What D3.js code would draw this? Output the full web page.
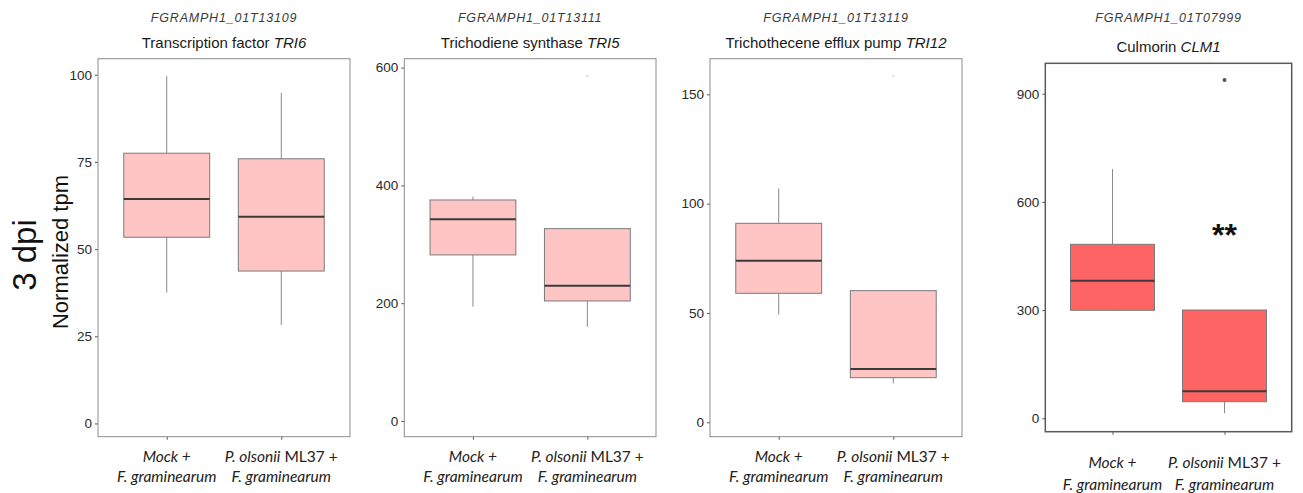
<!DOCTYPE html>
<html>
<head>
<meta charset="utf-8">
<script src="https://cdn.jsdelivr.net/npm/d3@7"></script>
<style>
  body { margin: 0; background: #fff; }
  svg { display: block; font-family: "Liberation Sans", Arial, sans-serif; }
</style>
</head>
<body>
<div id="chart"></div>
<script>
// Data
const groups = ["Mock + F. graminearum", "P. olsonii ML37 + F. graminearum"];
const geneIds = ["FGRAMPH1_01T13109", "FGRAMPH1_01T13111", "FGRAMPH1_01T13119", "FGRAMPH1_01T07999"];
const geneNames = ["Transcription factor", "Trichodiene synthase", "Trichothecene efflux pump", "Culmorin"];
const geneSymbols = ["TRI6", "TRI5", "TRI12", "CLM1"];
const yTicks = [[0, 25, 50, 75, 100], [0, 200, 400, 600], [0, 50, 100, 150], [0, 300, 600, 900]];

// [lower whisker, Q1, median, Q3, upper whisker] per group
const tri6 = [[37.5, 53.4, 64.4, 77.5, 99.6], [28.2, 43.7, 59.3, 75.9, 94.8]];
const tri5 = [[194, 282, 342.5, 375.3, 381], [160, 203.8, 229.8, 326.6, 326.6]];
const tri12 = [[49.2, 59.0, 73.9, 91.0, 107], [17.8, 20.4, 24.4, 60.2, 60.2]];
const clm1 = [[298, 299.5, 381.6, 482.5, 691], [13.9, 46, 74.9, 300.3, 300.3]];
const boxStats = [tri6, tri5, tri12, clm1];

// outliers per panel: [group index, value]
const outliers = [[], [[1, 586]], [[1, 158.5]], [[1, 938]]];
// significance marks: [panel, group index, value, text]
const marks = [[3, 1, 478, "**"]];

// Layout
const W = 1303, H = 493;
const panels = [
  {x0: 98, x1: 350, y0: 58.7, y1: 436.7, dom: [-3.8, 104.6], fill: "#ffc5c5", frame: "#8c8c8c", lab: 25.5, ol: "#d0d0d0", or: 1},
  {x0: 404.3, x1: 656, y0: 58.7, y1: 436.7, dom: [-26.7, 615.2], fill: "#ffc5c5", frame: "#8c8c8c", lab: 25.5, ol: "#d0d0d0", or: 1},
  {x0: 710, x1: 962, y0: 58.7, y1: 436.7, dom: [-6.6, 166.3], fill: "#ffc5c5", frame: "#8c8c8c", lab: 25.5, ol: "#d0d0d0", or: 1},
  {x0: 1045.3, x1: 1291.7, y0: 63.3, y1: 431.7, dom: [-37.2, 984.5], fill: "#ff6464", frame: "#5a5a5a", lab: 36, ol: "#555", or: 2}
];

const svg = d3.select("#chart").append("svg")
  .attr("width", W).attr("height", H);

panels.forEach((p, i) => {
  const g = svg.append("g");
  const y = d3.scaleLinear().domain(p.dom).range([p.y1, p.y0]);
  const x = d3.scalePoint().domain(groups).range([p.x0, p.x1]).padding(0.6);
  const bw = x.step() * 0.75;
  const cx = (p.x0 + p.x1) / 2;

  // titles
  g.append("text").attr("x", cx).attr("y", 22)
    .attr("text-anchor", "middle").attr("font-size", 12.5).attr("font-style", "italic")
    .attr("letter-spacing", 0.8).attr("fill", "#3a3a3a").text(geneIds[i]);
  const t = g.append("text").attr("x", cx).attr("y", i === 3 ? 52 : 48)
    .attr("text-anchor", "middle").attr("font-size", 15).attr("fill", "#1a1a1a");
  t.append("tspan").text(geneNames[i] + " ");
  t.append("tspan").attr("font-style", "italic").text(geneSymbols[i]);

  // y axis
  const ya = g.append("g").attr("transform", `translate(${p.x0},0)`)
    .call(d3.axisLeft(y).tickValues(yTicks[i]).tickSize(3).tickPadding(3));
  ya.attr("font-family", null).attr("font-size", null);
  ya.select(".domain").remove();
  ya.selectAll("line").attr("stroke", "#555");
  ya.selectAll("text").attr("font-size", 13.5).attr("fill", "#2a2a2a");

  // x axis ticks
  const xa = g.append("g").attr("transform", `translate(0,${p.y1})`)
    .call(d3.axisBottom(x).tickSize(3).tickFormat(""));
  xa.select(".domain").remove();
  xa.selectAll("line").attr("stroke", "#555");

  // boxes
  const bx = g.selectAll(".box").data(boxStats[i]).enter().append("g");
  bx.append("line")
    .attr("x1", (d, j) => x(groups[j])).attr("x2", (d, j) => x(groups[j]))
    .attr("y1", d => y(d[0])).attr("y2", d => y(d[1]))
    .attr("stroke", "#8a8a8a").attr("stroke-width", 1);
  bx.append("line")
    .attr("x1", (d, j) => x(groups[j])).attr("x2", (d, j) => x(groups[j]))
    .attr("y1", d => y(d[3])).attr("y2", d => y(d[4]))
    .attr("stroke", "#8a8a8a").attr("stroke-width", 1);
  bx.append("rect")
    .attr("x", (d, j) => x(groups[j]) - bw / 2).attr("width", bw)
    .attr("y", d => y(d[3])).attr("height", d => y(d[1]) - y(d[3]))
    .attr("fill", p.fill).attr("stroke", "#7a7a7a").attr("stroke-width", 1);
  bx.append("line")
    .attr("x1", (d, j) => x(groups[j]) - bw / 2).attr("x2", (d, j) => x(groups[j]) + bw / 2)
    .attr("y1", d => y(d[2])).attr("y2", d => y(d[2]))
    .attr("stroke", "#3a3a3a").attr("stroke-width", 2);

  // outliers
  g.selectAll(".out").data(outliers[i]).enter().append("circle")
    .attr("cx", d => x(groups[d[0]])).attr("cy", d => y(d[1]))
    .attr("r", p.or).attr("fill", p.ol);

  // frame
  g.append("rect").attr("x", p.x0).attr("y", p.y0)
    .attr("width", p.x1 - p.x0).attr("height", p.y1 - p.y0)
    .attr("fill", "none").attr("stroke", p.frame).attr("stroke-width", i === 3 ? 1.5 : 1);

  // x labels
  groups.forEach((grp, j) => {
    const lx = x(grp);
    const lt = g.append("text").attr("x", lx).attr("y", p.y1 + p.lab)
      .attr("text-anchor", "middle").attr("font-family", "Lato, 'Open Sans', sans-serif")
      .attr("font-size", 15.5).attr("fill", "#222");
    if (j === 0) {
      lt.append("tspan").attr("font-style", "italic").text("Mock +");
    } else {
      lt.append("tspan").attr("font-style", "italic").text("P. olsonii");
      lt.append("tspan").text(" ML37 +");
    }
    g.append("text").attr("x", lx).attr("y", p.y1 + p.lab + (i === 3 ? 22 : 20))
      .attr("text-anchor", "middle").attr("font-family", "Lato, 'Open Sans', sans-serif")
      .attr("font-size", 15.5).attr("font-style", "italic").attr("fill", "#222")
      .text("F. graminearum");
  });

  // significance
  marks.filter(m => m[0] === i).forEach(m => {
    g.append("text").attr("x", x(groups[m[1]])).attr("y", y(m[2]))
      .attr("text-anchor", "middle").attr("font-size", 32).attr("font-weight", "bold")
      .attr("fill", "#111").text(m[3]);
  });
});

// shared y labels
svg.append("text").attr("transform", "translate(36,255) rotate(-90)")
  .attr("text-anchor", "middle").attr("font-size", 33).attr("fill", "#111").text("3 dpi");
svg.append("text").attr("transform", "translate(68,252) rotate(-90)")
  .attr("text-anchor", "middle").attr("font-size", 22).attr("fill", "#111").text("Normalized tpm");
</script>
</body>
</html>
